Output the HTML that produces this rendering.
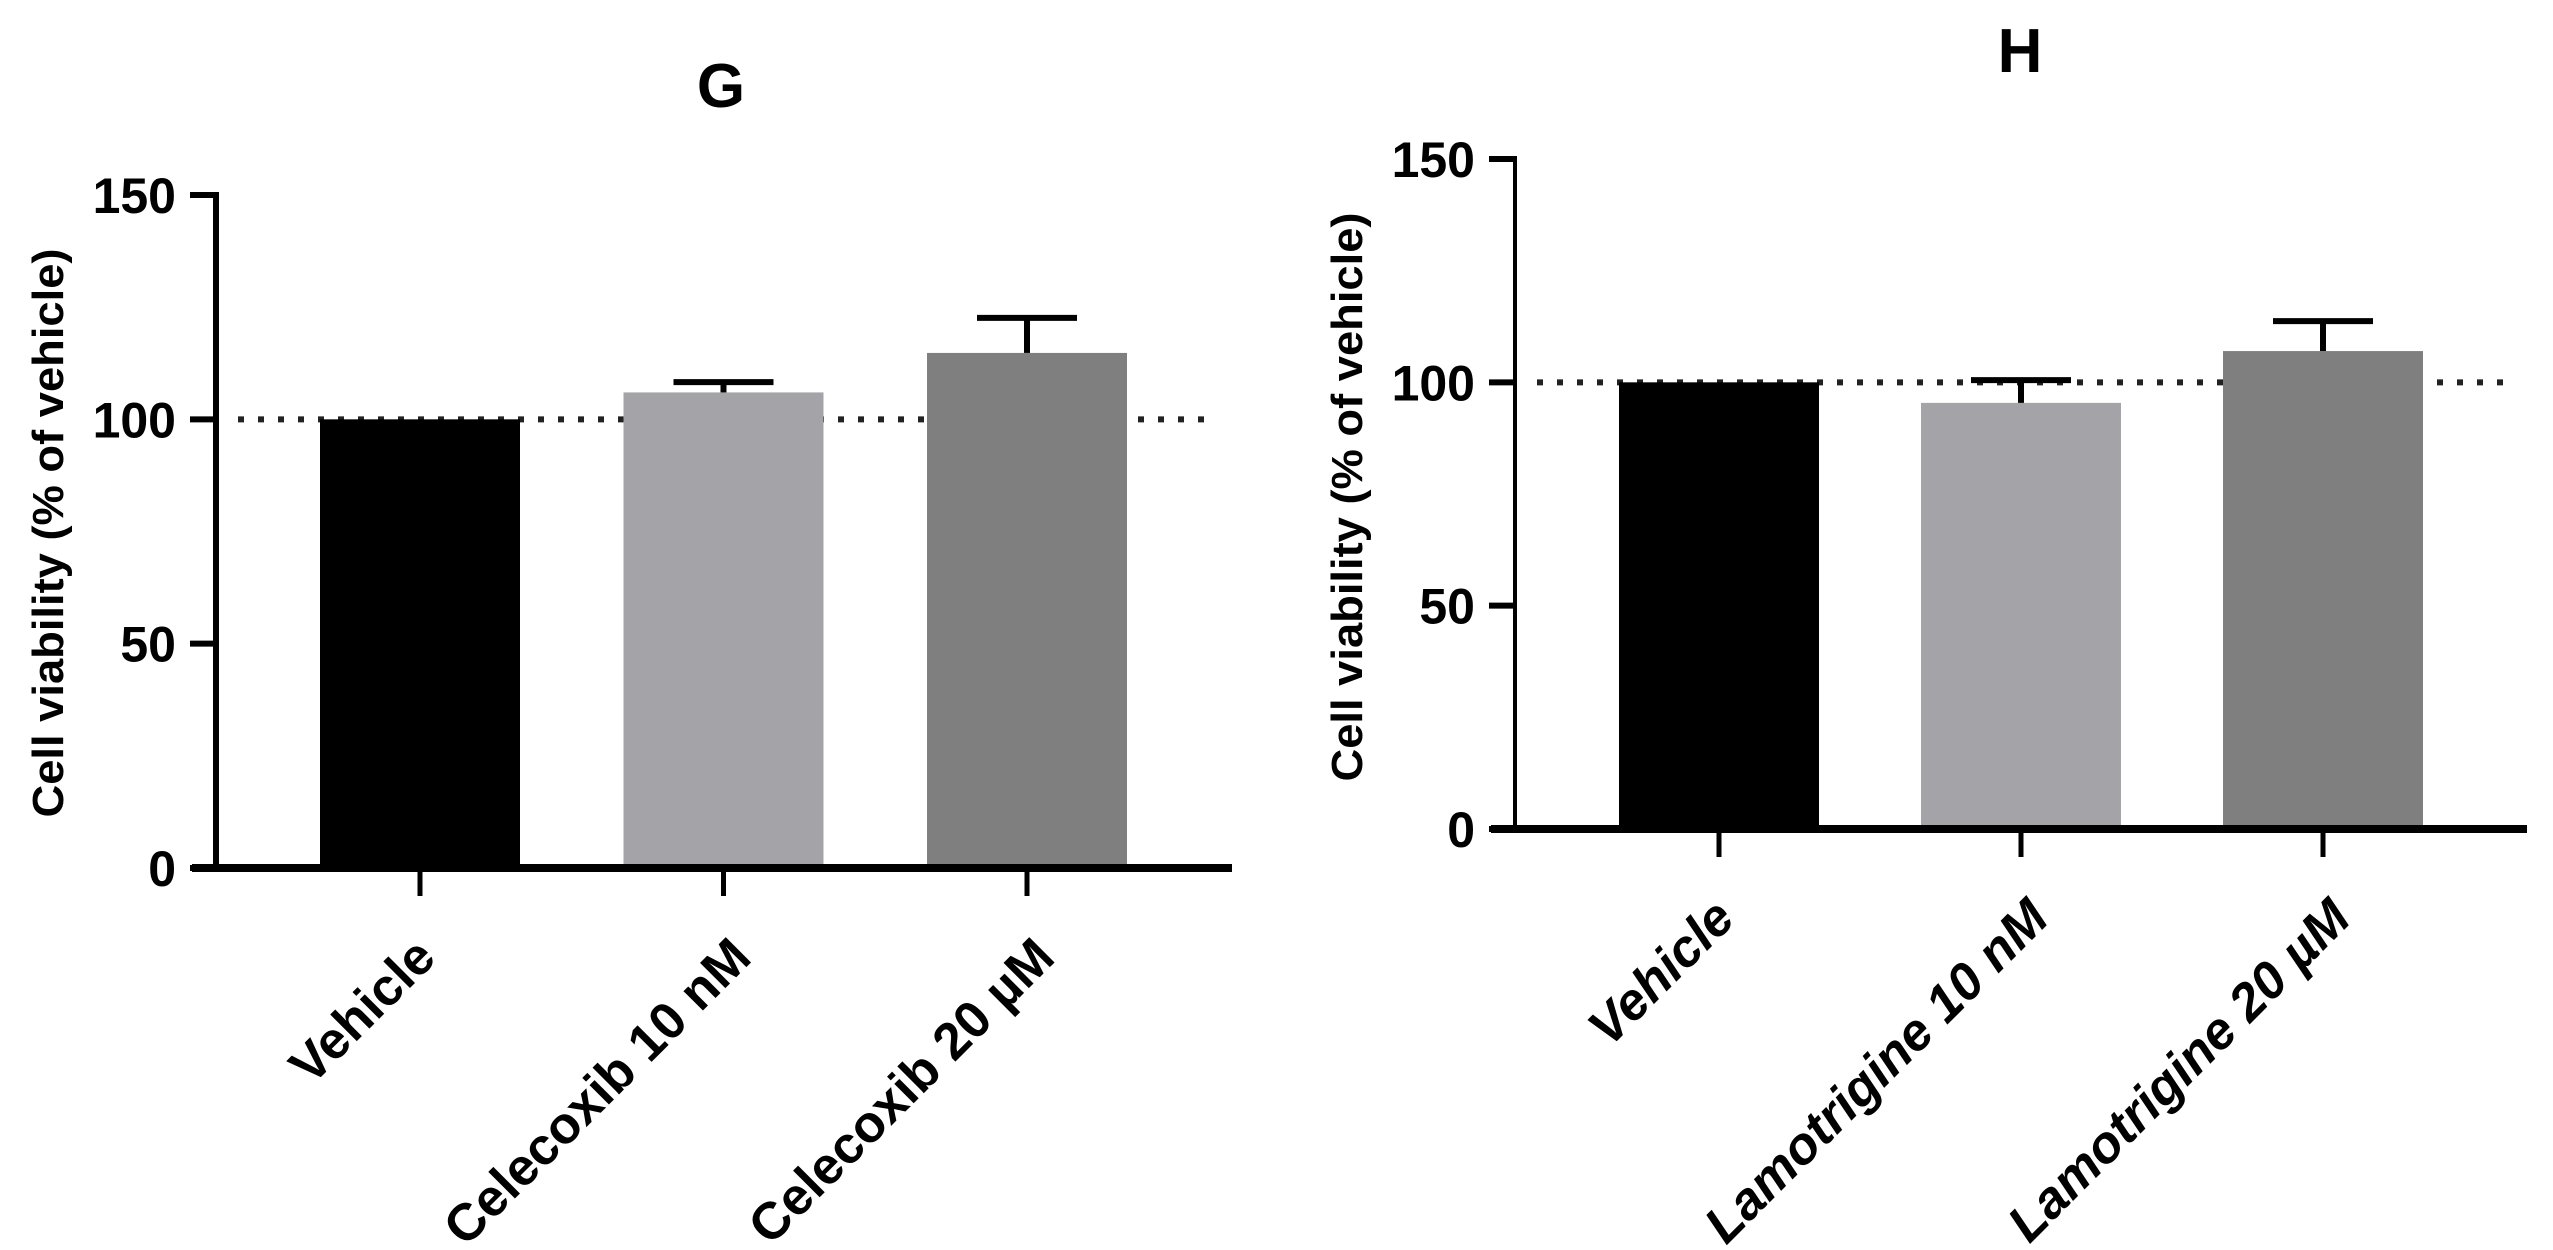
<!DOCTYPE html>
<html>
<head>
<meta charset="utf-8">
<style>
  html, body { margin: 0; padding: 0; background: #ffffff; }
  body { width: 2553px; height: 1250px; overflow: hidden; }
  svg { display: block; }
  text { font-family: "Liberation Sans", "DejaVu Sans", sans-serif; fill: #000; }
</style>
</head>
<body>
<svg id="fig" width="2553" height="1250" viewBox="0 0 2553 1250" xmlns="http://www.w3.org/2000/svg"></svg>
<script>
// ---- data ----
const yTicks = [0, 50, 100, 150];
const yTickLabels = ["0", "50", "100", "150"];
const referenceValue = 100;
const gCategories = ["Vehicle", "Celecoxib 10 nM", "Celecoxib 20 \u00B5M"];
const gMeans = [100, 106, 114.8];
const gErrors = [0, 2.3, 7.8];
const hCategories = ["Vehicle", "Lamotrigine 10 nM", "Lamotrigine 20 \u00B5M"];
const hMeans = [100, 95.4, 107];
const hErrors = [0, 5.1, 6.7];
const barColors = ["#000000", "#a4a3a8", "#7f7f7f"];

const NS = "http://www.w3.org/2000/svg";
const svg = document.getElementById("fig");
function mk(tag, attrs, parent) {
  const el = document.createElementNS(NS, tag);
  for (const k in attrs) el.setAttribute(k, attrs[k]);
  (parent || svg).appendChild(el);
  return el;
}

function drawChart(cfg, cats, means, errs) {
  const g = mk("g", {});
  
  
  const yScale = v => cfg.y0 - (v / 150) * (cfg.y0 - cfg.y150);
  const xCenter = i => cfg.axisX + 204 + i * cfg.step;

  const t = mk("text", {x: cfg.titleX, y: cfg.titleY, "text-anchor": "middle", "font-size": 62, "font-weight": "bold"}, g);
  t.textContent = cfg.title;
  
  

  const ref = mk("line", {x1: cfg.axisX + 22, x2: cfg.axisEnd - 18, y1: yScale(referenceValue), y2: yScale(referenceValue),
    stroke: "#222", "stroke-width": 6, "stroke-dasharray": "6 14"}, g);
  
  

  for (let i = 0; i < cats.length; i++) {
    const cx = xCenter(i);
    const top = yScale(means[i]);
    const r = mk("rect", {x: cx - 100, y: top, width: 200, height: cfg.y0 - top, fill: barColors[i]}, g);
    
    
    if (errs[i] > 0) {
      const ey = yScale(means[i] + errs[i]);
      const stem = mk("line", {x1: cx, x2: cx, y1: top, y2: ey, stroke: "#000", "stroke-width": 6}, g);
      
      
      const cap = mk("line", {x1: cx - 50, x2: cx + 50, y1: ey, y2: ey, stroke: "#000", "stroke-width": 6}, g);
      
      
    }
    const xt = mk("line", {x1: cx, x2: cx, y1: cfg.y0, y2: cfg.y0 + 28, stroke: "#000", "stroke-width": 5}, g);
    
    
    const ax = cx + (i === 0 ? 18 : 30);
    const ay = cfg.y0 + 92;
    const lab = mk("text", {x: ax, y: ay, "text-anchor": "end", "font-size": 52, "font-weight": "bold",
      "font-style": cfg.italic ? "italic" : "normal", transform: "rotate(-45 " + ax + " " + ay + ")"}, g);
    lab.textContent = cats[i];
    
    
  }

  const ya = mk("line", {x1: cfg.axisX, x2: cfg.axisX, y1: cfg.y150 - 3, y2: cfg.y0 + 4, stroke: "#000", "stroke-width": cfg.yw}, g);
  
  
  const xa = mk("line", {x1: cfg.axisX - 24, x2: cfg.axisEnd, y1: cfg.y0, y2: cfg.y0, stroke: "#000", "stroke-width": 8}, g);
  
  

  for (let k = 0; k < yTicks.length; k++) {
    const yy = yScale(yTicks[k]);
    const tk = mk("line", {x1: cfg.axisX - 26, x2: cfg.axisX, y1: yy, y2: yy, stroke: "#000", "stroke-width": 6}, g);
    
    
    const tl = mk("text", {x: cfg.axisX - 40, y: yy + 18, "text-anchor": "end", "font-size": 50, "font-weight": "bold"}, g);
    tl.textContent = yTickLabels[k];
    
    
  }

  const yt = mk("text", {x: cfg.ytX, y: cfg.ytY, "text-anchor": "middle", "font-size": 44, "font-weight": "bold",
    textLength: 569, lengthAdjust: "spacingAndGlyphs",
    transform: "rotate(-90 " + cfg.ytX + " " + cfg.ytY + ")", "xml:space": "preserve"}, g);
  yt.textContent = "Cell viability (%  of vehicle)";
  
  
}

// G: rotate(-90) — the 'y' argument of rotation point is the baseline x after rotation
drawChart({id: "g", title: "G", titleX: 721, titleY: 107, axisX: 216, axisEnd: 1232, y150: 195, y0: 868,
  step: 303.5, yw: 6, ytX: 63, ytY: 533, italic: false}, gCategories, gMeans, gErrors);
drawChart({id: "h", title: "H", titleX: 2020, titleY: 72, axisX: 1515, axisEnd: 2527, y150: 159, y0: 829,
  step: 302, yw: 4, ytX: 1362, ytY: 497, italic: true}, hCategories, hMeans, hErrors);
</script>
</body>
</html>
